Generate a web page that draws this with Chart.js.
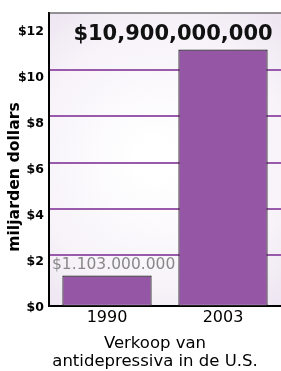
<!DOCTYPE html>
<html>
<head>
<meta charset="utf-8">
<script src="https://cdn.jsdelivr.net/npm/chart.js@4.4.1/dist/chart.umd.min.js"></script>
<style>
  body { margin: 0; background: #fff; }
  canvas { display: block; }
</style>
</head>
<body>
<canvas id="chartBar" width="281" height="371"></canvas>
<script>
// data (billions of dollars)
const categories = ["1990", "2003"];
const sales = [1.103, 10.9];
const valueLabels = ["$1.103.000.000", "$10,900,000,000"];
const yTicks = [0, 2, 4, 6, 8, 10, 12];
const yTitle = "miljarden dollars";
const xTitle = ["Verkoop van", "antidepressiva in de U.S."];

const yMin = -0.22;
const yMax = 12.51;
const purple = "#9656a6";
const font = "'DejaVu Sans', sans-serif";

const decor = {
    id: "decor",
    beforeDraw(chart) {
        const { ctx, chartArea: a } = chart;
        const cx = (a.left + a.right) / 2, cy = (a.top + a.bottom) / 2;
        const g = ctx.createRadialGradient(cx - 10, cy, 20, cx, cy, 200);
        g.addColorStop(0, "#ffffff");
        g.addColorStop(0.6, "#f7f3f9");
        g.addColorStop(1, "#ebe2ef");
        ctx.save();
        ctx.fillStyle = g;
        ctx.fillRect(a.left, a.top, a.right - a.left, a.bottom - a.top);
        ctx.restore();
    },
    afterDraw(chart) {
        const { ctx, chartArea: a } = chart;
        ctx.save();
        // top frame line
        ctx.strokeStyle = "#333";
        ctx.lineWidth = 1;
        ctx.beginPath();
        ctx.moveTo(a.left, a.top + 0.5);
        ctx.lineTo(a.right, a.top + 0.5);
        ctx.stroke();

        // value labels
        const bars = chart.getDatasetMeta(0).data;
        ctx.textBaseline = "alphabetic";
        ctx.fillStyle = "#888";
        ctx.font = "15.5px " + font;
        ctx.textAlign = "left";
        ctx.fillText(valueLabels[0], a.left + 3, bars[0].y - 6);
        ctx.fillStyle = "#111";
        ctx.font = "bold 21px " + font;
        ctx.textAlign = "right";
        ctx.fillText(valueLabels[1], bars[1].x + bars[1].width / 2 + 5, bars[1].y - 10);

        // axis titles
        ctx.font = "bold 15.7px " + font;
        ctx.fillStyle = "#000";
        ctx.textAlign = "center";
        ctx.textBaseline = "middle";
        ctx.translate(15, 177);
        ctx.rotate(-Math.PI / 2);
        ctx.fillText(yTitle, 0, 0);
        ctx.setTransform(1, 0, 0, 1, 0, 0);
        ctx.font = "16.5px " + font;
        ctx.textBaseline = "alphabetic";
        ctx.fillText(xTitle[0], 155, 348);
        ctx.fillText(xTitle[1], 155, 366);
        ctx.restore();
    }
};

const ctx = document.getElementById("chartBar");
new Chart(ctx, {
    type: "bar",
    data: {
        labels: categories,
        datasets: [
            {
                data: sales,
                base: yMin,
                backgroundColor: purple,
                borderColor: "#222",
                borderWidth: 1.2,
                borderSkipped: false,
                barPercentage: 0.77,
                categoryPercentage: 1,
            },
        ],
    },
    options: {
        responsive: false,
        animation: false,
        devicePixelRatio: 1,
        layout: { padding: { top: 12, right: 0, left: 0, bottom: 0 } },
        plugins: {
            legend: { display: false },
            tooltip: { enabled: false },
        },
        scales: {
            x: {
                afterFit: (s) => { s.height = 65; },
                grid: { display: false, drawTicks: false },
                border: { color: "#000", width: 2 },
                ticks: {
                    color: "#000",
                    padding: 2,
                    font: { family: font, size: 16 },
                },
            },
            y: {
                min: yMin,
                max: yMax,
                afterFit: (s) => { s.width = 49; },
                afterBuildTicks: (s) => { s.ticks = yTicks.map((v) => ({ value: v })); },
                grid: {
                    drawTicks: false,
                    lineWidth: 2,
                    color: (c) => (c.tick && (c.tick.value === 0 || c.tick.value === 12) ? "rgba(0,0,0,0)" : "#9a5aab"),
                },
                border: { color: "#000", width: 2 },
                ticks: {
                    color: "#000",
                    padding: 5,
                    labelOffset: 7,
                    font: { family: font, size: 12.5, weight: "bold" },
                    callback: (v) => "$" + v,
                },
            },
        },
    },
    plugins: [decor],
});
</script>
</body>
</html>
